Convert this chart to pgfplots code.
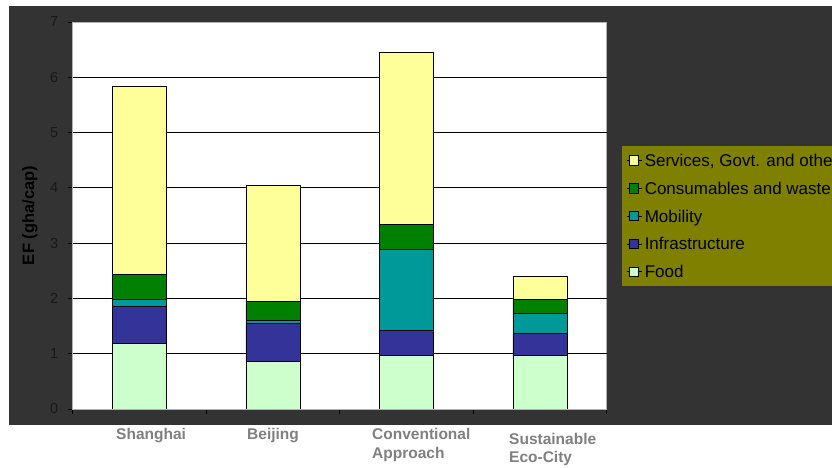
\documentclass[border=0pt]{standalone}
\usepackage{pgfplots}
\pgfplotsset{compat=1.18}
\usepackage{pgfplotstable}
\usepackage{fontspec}
\setmainfont{Liberation Sans}
\definecolor{bgdark}{HTML}{333333}
\definecolor{legolive}{HTML}{808000}
\definecolor{cServ}{HTML}{FFFF99}
\definecolor{cCons}{HTML}{008000}
\definecolor{cMob}{HTML}{009999}
\definecolor{cInf}{HTML}{333399}
\definecolor{cFood}{HTML}{CCFFCC}
\definecolor{labgray}{HTML}{808080}
\pgfplotstableread{
x food infra mob cons serv
0 1.19 0.66 0.13 0.46 3.39
1 0.855 0.695 0.05 0.35 2.09
2 0.96 0.46 1.47 0.45 3.11
3 0.96 0.41 0.35 0.26 0.41
}\efdata
\begin{document}
\begin{tikzpicture}
\path[use as bounding box] (0pt,0pt) rectangle (832pt,468pt);
\clip (0pt,0pt) rectangle (832pt,468pt);
\fill[white] (0pt,0pt) rectangle (832pt,468pt);
\fill[bgdark] (9pt,43pt) rectangle (840pt,462pt);
\begin{axis}[
  at={(72.7pt,59pt)}, anchor=south west,
  scale only axis, width=534pt, height=387pt,
  axis background/.style={fill=white},
  xmin=-0.5, xmax=3.5, ymin=0, ymax=7,
  ybar stacked, bar width=54pt,
  xtick={-0.5,0.5,1.5,2.5,3.5}, xticklabels={},
  ytick={0,...,7},
  extra y ticks={1,...,6}, extra y tick labels={},
  extra y tick style={grid=major, major tick length=0pt},
  grid style={black, line width=0.8pt},
  xtick pos=bottom, ytick pos=left,
  tick align=outside, major tick length=5pt,
  tick style={black, line width=0.8pt},
  axis line style={draw=gray!60, line width=0.8pt},
  /pgf/number format/assume math mode=true,
  yticklabel style={font=\fontsize{14.5}{17}\selectfont, text=black!90, xshift=-6pt},
  every axis y label/.style={at={(axis description cs:-0.080,0.50)}, rotate=90, anchor=center, font=\bfseries\fontsize{16.5}{19}\selectfont, text=black},
  ylabel={EF (gha/cap)},
  legend style={at={(axis description cs:1.028,0.6796)}, anchor=north west,
    fill=legolive, draw=none, font=\fontsize{17}{19}\selectfont,
    inner sep=5pt, row sep=9pt, nodes={inner sep=2pt}},
  legend cell align=left,
  reverse legend,
  legend image code/.code={\path (0pt,0pt) -- (15pt,0pt);\draw[#1,draw=black,line width=0.8pt] (2pt,-4.7pt) rectangle (11.5pt,4.7pt);},
  every axis plot/.append style={draw=black, line width=0.9pt},
]
\addplot[fill=cFood] table[x=x,y=food]{\efdata};
\addlegendentry{Food\strut}
\addplot[fill=cInf] table[x=x,y=infra]{\efdata};
\addlegendentry{Infrastructure\strut}
\addplot[fill=cMob] table[x=x,y=mob]{\efdata};
\addlegendentry{Mobility\strut}
\addplot[fill=cCons] table[x=x,y=cons]{\efdata};
\addlegendentry{Consumables and waste\strut}
\addplot[fill=cServ] table[x=x,y=serv]{\efdata};
\addlegendentry{Services, Govt. and other\strut}
\end{axis}
\begin{scope}[every node/.style={anchor=base west, inner sep=0pt, text=labgray, font=\bfseries\fontsize{15.5}{18}\selectfont}]
\node at (116pt,28pt) {Shanghai};
\node at (247pt,28pt) {Beijing};
\node at (372pt,28pt) {Conventional};
\node at (372pt,9pt) {Approach};
\node at (509pt,23pt) {Sustainable};
\node at (509pt,5pt) {Eco-City};
\end{scope}
\end{tikzpicture}
\end{document}
